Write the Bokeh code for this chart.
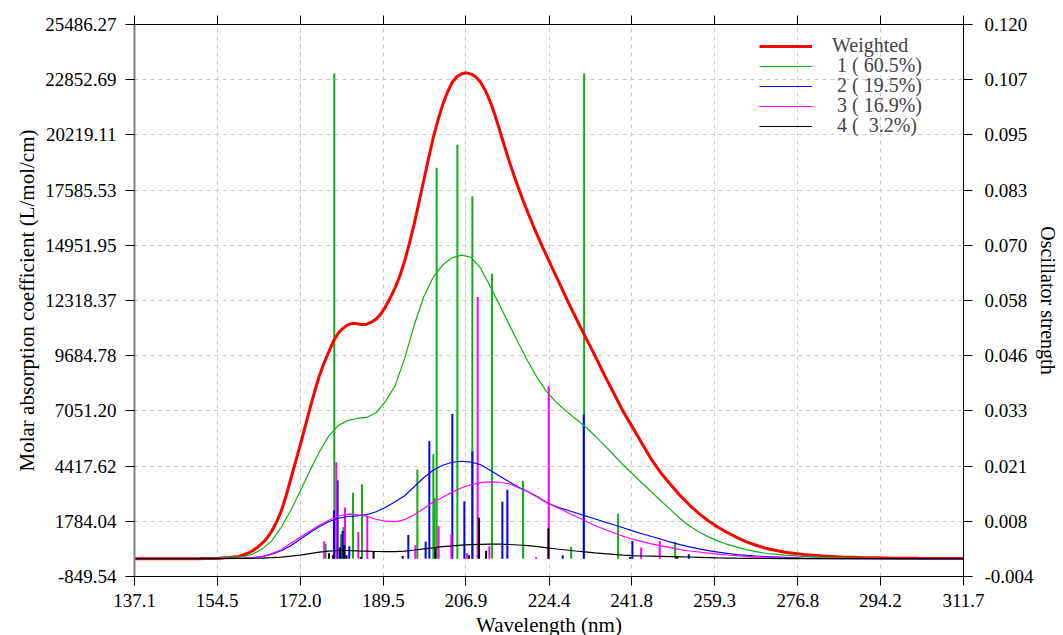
import numpy as np
from bokeh.plotting import figure
from bokeh.models import (Range1d, LinearAxis, FixedTicker, Legend, LegendItem,
                          PrintfTickFormatter)
from bokeh.embed import file_html
from bokeh.resources import INLINE

# ---------------- data ----------------
# weighted spectrum (epsilon, L/mol/cm)
wl_weighted = ([137.1, 150] + list(range(155, 233)) + list(range(234, 271, 2))
               + [274, 278, 282, 286, 290, 296, 302, 311.7])
weighted = [0, 0,
            25, 40, 60, 85, 110, 175, 260, 380, 540, 740,
            977, 1311, 1740, 2265, 2980, 3791, 4601, 5412, 6270, 7128,
            7939, 8702, 9321, 9860, 10370, 10752, 10990, 11157, 11229, 11205,
            11167, 11190, 11290, 11430, 11680, 12040, 12460, 12930, 13500, 14200,
            15040, 15960, 16980, 18020, 19060, 20061, 20911, 21651, 22251, 22720,
            22990, 23140, 23180, 23120, 22980, 22730, 22330, 21820, 21180, 20450,
            19700, 18980, 18300, 17660, 17060, 16480, 15930, 15400, 14890, 14400,
            13910, 13430, 12950, 12450, 11980, 11520, 11060, 10609,
            9727, 8792, 7915, 7028, 6265, 5493, 4725, 4081, 3543, 3020, 2560, 2150,
            1800, 1500, 1240, 1010, 800, 640, 500,
            310, 200, 129, 86, 62, 38, 24, 10]

# per-state spectra (epsilon, L/mol/cm)
wl_states = [137.1, 150] + list(range(160, 271, 2)) + [274, 278, 282, 290, 300, 311.7]
curve1 = [0, 0,
          95, 220, 470, 850, 1500, 2300, 3220, 4180, 5080, 5850,
          6350, 6590, 6690, 6740, 6960, 7520, 8255, 9555, 11135, 12485,
          13425, 14015, 14355, 14485, 14380, 13860, 13000, 12100, 11180, 10270,
          9400, 8600, 7950, 7450, 7040, 6680, 6310, 5880, 5430, 4960,
          4480, 4040, 3610, 3180, 2760, 2340, 1920, 1560, 1270, 1040,
          840, 680, 550, 430, 335, 260,
          167, 110, 62, 24, 5, 0]
curve2 = [0, 0,
          24, 48, 95, 215, 381, 620, 930, 1240, 1526, 1764,
          1931, 2012, 2045, 2098, 2241, 2456, 2718, 3004, 3433, 3862,
          4220, 4458, 4601, 4649, 4611, 4482, 4220, 3948, 3671, 3409,
          3195, 2956, 2670, 2479, 2336, 2193, 2050, 1907, 1764, 1621,
          1478, 1325, 1192, 1058, 930, 787, 670, 560, 465, 385,
          310, 253, 200, 160, 129, 100,
          60, 24, 10, 0, 0, 0]
curve3 = [0, 0,
          24, 48, 95, 240, 429, 739, 1025, 1311, 1597, 1836,
          2026, 2122, 2098, 2026, 1883, 1788, 1764, 1860, 2098, 2384,
          2694, 2932, 3171, 3385, 3528, 3633, 3662, 3648, 3576, 3385,
          3195, 2932, 2670, 2455, 2241, 2026, 1812, 1597, 1407, 1240,
          1073, 930, 811, 706, 610, 524, 434, 367, 319, 262,
          215, 176, 143, 115, 91, 72,
          40, 14, 5, 0, 0, 0]
curve4 = [0, 0,
          10, 19, 29, 48, 72, 119, 167, 238, 310, 358,
          391, 391, 372, 358, 343, 334, 334, 362, 415, 472,
          520, 572, 615, 644, 668, 682, 691, 691, 677, 653,
          620, 572, 515, 462, 415, 367, 324, 281, 243, 205,
          172, 148, 129, 119, 110, 100, 91, 81, 67, 52,
          38, 31, 24, 19, 14, 10,
          5, 0, 0, 0, 0, 0]

# sticks: excitation wavelength (nm) and oscillator strength
state1_wl = [177.35, 179.18, 180.59, 181.08, 183.12, 185.02, 196.67, 200.04, 200.31,
             200.74, 205.10, 208.26, 212.41, 218.94, 229.06, 231.80, 238.96, 250.97]
state1_f = [0.0033, 0.1090, 0.0055, 0.0071, 0.0148, 0.0167, 0.0200, 0.0235, 0.0137,
            0.0878, 0.0930, 0.0814, 0.0640, 0.0175, 0.0027, 0.1090, 0.0101, 0.0038]

state2_wl = [179.12, 179.88, 180.93, 182.34, 194.77, 198.42, 199.20, 204.04, 206.57,
             208.26, 214.58, 215.63, 227.29, 231.71, 241.97, 253.84]
state2_f = [0.0109, 0.0176, 0.0062, 0.0028, 0.0053, 0.0038, 0.0264, 0.0325, 0.0129,
            0.0241, 0.0128, 0.0155, 0.0008, 0.0324, 0.0040, 0.0010]

state3_wl = [177.07, 179.60, 181.43, 184.24, 186.13, 196.25, 201.16, 203.83, 207.14,
             209.38, 211.84, 221.68, 224.34, 243.81, 247.73]
state3_f = [0.0039, 0.0217, 0.0115, 0.0060, 0.0095, 0.0030, 0.0073, 0.0055, 0.0013,
            0.0588, 0.0028, 0.0004, 0.0388, 0.0025, 0.0040]

state4_wl = [178.06, 178.91, 180.38, 181.29, 181.77, 184.81, 187.46, 193.57, 200.46,
             207.56, 209.67, 211.15, 224.27, 241.49, 251.39]
state4_f = [0.0012, 0.0008, 0.0025, 0.0030, 0.0008, 0.0004, 0.0015, 0.0006, 0.0023,
            0.0008, 0.0092, 0.0018, 0.0068, 0.0004, 0.0005]

legend_labels = ["Weighted", "\u00a01 (\u00a060.5%)", "\u00a02 (\u00a019.5%)",
                 "\u00a03 (\u00a016.9%)", "\u00a04 (\u00a0\u00a03.2%)"]

x_tick_labels = ["137.1", "154.5", "172.0", "189.5", "206.9", "224.4", "241.8",
                 "259.3", "276.8", "294.2", "311.7"]
eps_tick_labels = ["-849.54", "1784.04", "4417.62", "7051.20", "9684.78", "12318.37",
                   "14951.95", "17585.53", "20219.11", "22852.69", "25486.27"]
osc_tick_labels = ["-0.004", "0.008", "0.021", "0.033", "0.046", "0.058", "0.070",
                   "0.083", "0.095", "0.107", "0.120"]

# ---------------- styling ----------------
FONT = "Liberation Serif"
RED, GREEN, BLUE, MAGENTA, BLACK = "#ff0000", "#10b010", "#0000ff", "#ff00ff", "#000000"

x_ticks = [float(v) for v in x_tick_labels]
eps_ticks = [float(v) for v in eps_tick_labels]
osc_ticks = list(np.linspace(-0.004, 0.120, len(osc_tick_labels)))

p = figure(frame_width=829, frame_height=552,
           x_range=Range1d(137.1, 311.7), y_range=Range1d(-849.54, 25486.27),
           output_backend="svg", toolbar_location=None,
           min_border_left=134, min_border_right=96, min_border_top=24,
           min_border_bottom=59,
           x_axis_label="Wavelength (nm)",
           y_axis_label="Molar absorption coefficient (L/mol/cm)")
p.outline_line_color = None
p.background_fill_color = "white"
p.border_fill_color = "white"
p.extra_y_ranges = {"osc": Range1d(-0.004, 0.120)}

def style_axis(ax, label_size="19px", standoff=9):
    ax.minor_tick_line_color = None
    ax.major_tick_in = 0
    ax.major_tick_out = 9
    ax.major_tick_line_color = "black"
    ax.axis_line_color = "black"
    ax.major_label_text_font = FONT
    ax.major_label_text_font_size = label_size
    ax.major_label_text_color = "black"
    ax.major_label_standoff = standoff
    ax.axis_label_text_font = FONT
    ax.axis_label_text_font_size = "21px"
    ax.axis_label_text_font_style = "normal"
    ax.axis_label_text_color = "black"

xax = p.xaxis[0]
xax.ticker = FixedTicker(ticks=x_ticks)
xax.formatter = PrintfTickFormatter(format="%.1f")
style_axis(xax, standoff=8)
xax.axis_label_standoff = 3

yax = p.yaxis[0]
yax.ticker = FixedTicker(ticks=eps_ticks)
yax.formatter = PrintfTickFormatter(format="%.2f")
style_axis(yax, standoff=9)
yax.axis_line_color = "#808080"
yax.axis_line_width = 2
yax.axis_label_standoff = 3

rax = LinearAxis(y_range_name="osc", ticker=FixedTicker(ticks=osc_ticks),
                 axis_label="Oscillator strength")
rax.major_label_overrides = {t: s for t, s in zip(osc_ticks, osc_tick_labels)}
style_axis(rax, standoff=12)
rax.axis_label_text_font_size = "20px"
rax.axis_label_standoff = 0
p.add_layout(rax, "right")

tax = LinearAxis(ticker=FixedTicker(ticks=x_ticks))
style_axis(tax, label_size="0px", standoff=0)
tax.major_label_text_alpha = 0
p.add_layout(tax, "above")

p.xgrid.ticker = FixedTicker(ticks=x_ticks)
p.ygrid.ticker = FixedTicker(ticks=eps_ticks)
for g in (p.xgrid[0], p.ygrid[0]):
    g.grid_line_color = "#c8c8c8"
    g.grid_line_dash = "4 4"
    g.grid_line_width = 1

# sticks (oscillator strengths on the right axis)
for wl, f, col in ((state1_wl, state1_f, GREEN), (state2_wl, state2_f, BLUE),
                   (state3_wl, state3_f, MAGENTA), (state4_wl, state4_f, BLACK)):
    p.segment(x0=wl, y0=[0] * len(wl), x1=wl, y1=f, y_range_name="osc",
              line_color=col, line_width=2)

# broadened curves
r_w = p.line(wl_weighted, weighted, line_color=RED, line_width=3)
r1 = p.line(wl_states, curve1, line_color=GREEN, line_width=1.2)
r2 = p.line(wl_states, curve2, line_color=BLUE, line_width=1.2)
r3 = p.line(wl_states, curve3, line_color=MAGENTA, line_width=1.2)
r4 = p.line(wl_states, curve4, line_color=BLACK, line_width=1.2)

# legend: one single-row legend per entry so rows are exactly 20 px apart
for i, (lab, r) in enumerate(zip(legend_labels, [r_w, r1, r2, r3, r4])):
    lg = Legend(items=[LegendItem(label=lab, renderers=[r])],
                location=(625, 519 - 20 * i), padding=0, margin=0, spacing=0,
                glyph_width=53, glyph_height=20, label_height=20, label_standoff=20,
                label_text_font=FONT, label_text_font_size="20px",
                background_fill_alpha=0, border_line_alpha=0)
    p.add_layout(lg)

open("out.html", "w").write(file_html(p, INLINE))
